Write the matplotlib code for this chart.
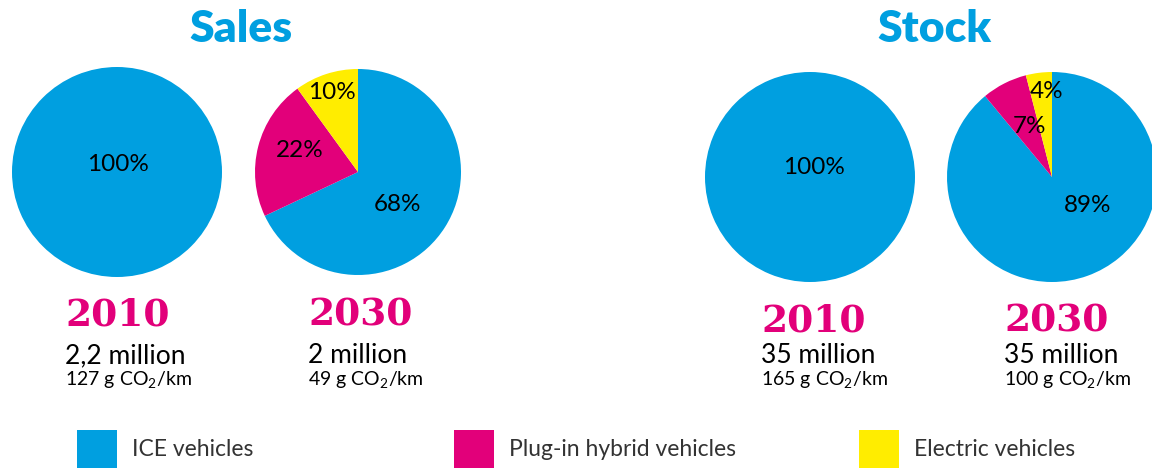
import matplotlib.pyplot as plt
from matplotlib.patches import Rectangle

plt.rcParams['mathtext.fontset'] = 'custom'
plt.rcParams['mathtext.rm'] = 'Lato'

W, H = 1152, 468

categories = ['ICE vehicles', 'Plug-in hybrid vehicles', 'Electric vehicles']
colors = ['#009FE0', '#E2007A', '#FFED00']

sales_2010 = [100, 0, 0]
sales_2030 = [68, 22, 10]
stock_2010 = [100, 0, 0]
stock_2030 = [89, 7, 4]

years = ['2010', '2030', '2010', '2030']
volumes = ['2,2 million', '2 million', '35 million', '35 million']
co2 = [127, 49, 165, 100]
groups = ['Sales', 'Stock']


def px(x, y):
    return x / W, 1 - y / H


fig = plt.figure(figsize=(W / 100, H / 100), dpi=100)

# pie centre (px), radius (px), label offsets in radius units
pies = [
    (sales_2010, (117, 172), 105, [(0.01, 0.07), None, None]),
    (sales_2030, (358, 172), 103, [(0.38, -0.32), (-0.57, 0.21), (-0.25, 0.77)]),
    (stock_2010, (810, 177), 105, [(0.04, 0.09), None, None]),
    (stock_2030, (1052, 177), 105, [(0.34, -0.27), (-0.21, 0.48), (-0.05, 0.81)]),
]

for vals, (cx, cy), r, offs in pies:
    ax = fig.add_axes([(cx - r) / W, (H - cy - r) / H, 2 * r / W, 2 * r / H])
    ax.pie(vals, colors=colors, startangle=90, counterclock=False,
           wedgeprops=dict(linewidth=0))
    ax.set_xlim(-1, 1)
    ax.set_ylim(-1, 1)
    ax.set_aspect('equal')
    ax.axis('off')
    for v, o in zip(vals, offs):
        if v > 0 and o is not None:
            ax.text(o[0], o[1], f'{v}%', ha='center', va='center',
                    fontsize=17.5, family='Lato', color='black')

# group titles
fig.text(*px(241, 29), groups[0], ha='center', va='center', fontsize=32,
         fontweight='heavy', family='Lato', color=colors[0])
fig.text(*px(934, 29), groups[1], ha='center', va='center', fontsize=32,
         fontweight='heavy', family='Lato', color=colors[0])

# year / volume / co2 blocks
text_x = [65, 308, 761, 1004]
year_y = [325, 325, 332, 332]
for i in range(4):
    fig.text(*px(text_x[i], year_y[i]), years[i], ha='left', va='baseline',
             fontsize=27, fontweight='bold', family='DejaVu Serif', color=colors[1])
    fig.text(*px(text_x[i], 363), volumes[i], ha='left', va='baseline',
             fontsize=19, family='Lato', color='black')
    fig.text(*px(text_x[i], 386), f'{co2[i]} g CO$_{{\\mathrm{{2}}}}$/km', ha='left',
             va='baseline', fontsize=14, family='Lato', color='black')

# legend
leg_x = [77, 454, 859]
for i, name in enumerate(categories):
    x0, y0 = px(leg_x[i], 468)
    fig.patches.append(Rectangle((x0, y0), 40 / W, 38 / H, transform=fig.transFigure,
                                 facecolor=colors[i], edgecolor='none'))
    fig.text(*px(leg_x[i] + 55, 450), name, ha='left', va='center', fontsize=16.5,
             family='Lato', color='#333333')

fig.savefig('out.png', dpi=100)
